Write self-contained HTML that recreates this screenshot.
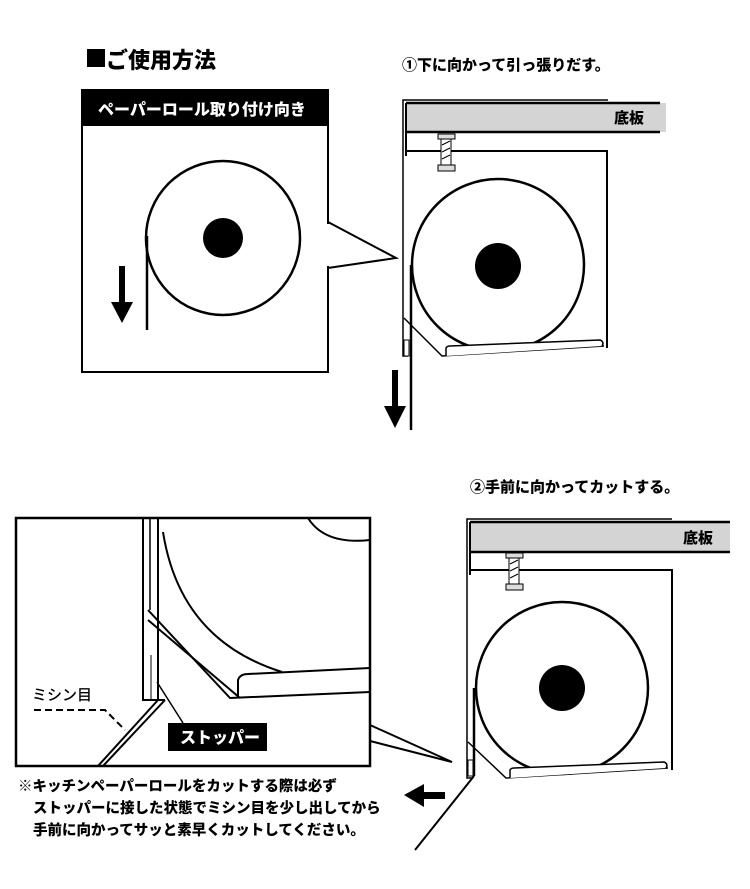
<!DOCTYPE html>
<html><head><meta charset="utf-8"><style>
html,body{margin:0;padding:0;background:#fff}
svg text{font-family:"Liberation Sans","Noto Sans CJK JP",sans-serif;font-weight:900}
</style></head><body>
<svg width="750" height="884" viewBox="0 0 750 884" xmlns="http://www.w3.org/2000/svg">
<rect x="87" y="49" width="18" height="18" fill="#000"/>
<text x="106" y="68" font-size="22">ご使用方法</text>
<text x="402" y="70" font-size="15">①下に向かって引っ張りだす。</text>
<!-- box1 -->
<rect x="82" y="90" width="246" height="282" fill="#fff" stroke="#000" stroke-width="2"/>
<rect x="82" y="90" width="246" height="36" fill="#000"/>
<text x="98" y="115" font-size="16" fill="#fff">ペーパーロール取り付け向き</text>
<circle cx="223" cy="238" r="77" fill="#fff" stroke="#000" stroke-width="2.5"/>
<circle cx="223" cy="238" r="20" fill="#000"/>
<line x1="147" y1="236" x2="147" y2="330" stroke="#000" stroke-width="2.5"/>
<rect x="119" y="266" width="6" height="40" fill="#000"/>
<polygon points="111,302 133,302 122,323" fill="#000"/>
<polygon points="328,222 396,258 328,268" fill="#fff" stroke="#000" stroke-width="2"/>
<rect x="326" y="224" width="4" height="42" fill="#fff"/>
<!-- diagram 1 -->
<g>
<polyline points="608,100 403,100 403,356 408,356" fill="none" stroke="#000" stroke-width="1.5"/>
<rect x="406" y="103" width="260" height="29" fill="#d4d4d4"/>
<line x1="406" y1="103" x2="660" y2="103" stroke="#000" stroke-width="2.5"/>
<line x1="406" y1="132" x2="660" y2="132" stroke="#000" stroke-width="2.5"/>
<line x1="406" y1="103" x2="406" y2="156" stroke="#000" stroke-width="2"/>
<text x="614" y="123" font-size="15">底板</text>
<polyline points="406,151 607,151 607,348" fill="none" stroke="#000" stroke-width="2"/>
<rect x="438" y="134" width="17" height="5" fill="#ddd" stroke="#000"/>
<rect x="441" y="139" width="10" height="26" fill="#fff" stroke="#000"/>
<path d="M442,145 L450,141 M442,152 L450,148 M442,159 L450,155" stroke="#000"/>
<rect x="438" y="165" width="17" height="6" fill="#ddd" stroke="#000"/>
<circle cx="498" cy="265" r="86" fill="#fff" stroke="#000" stroke-width="2.5"/>
<circle cx="498" cy="266" r="23" fill="#000"/>
<polyline points="404,318 442,356 604,346" fill="none" stroke="#000" stroke-width="1.5"/>
<path d="M446,356 L446,348 Q447,346 450,346 L600,340 Q603,341 603,344 L602,346" fill="#fff" stroke="#000" stroke-width="1.5"/>
<rect x="404" y="340" width="5" height="16" fill="#fff" stroke="#000"/>
<line x1="411" y1="265" x2="411" y2="430" stroke="#000" stroke-width="2.5"/>
<rect x="392" y="370" width="6" height="40" fill="#000"/>
<polygon points="384,406 406,406 395,428" fill="#000"/>
</g>
<!-- diagram 2 -->
<text x="470" y="492" font-size="15">②手前に向かってカットする。</text>
<g>
<polyline points="672,519 467,519 467,778 472,778" fill="none" stroke="#000" stroke-width="1.5"/>
<rect x="470" y="522" width="260" height="30" fill="#d4d4d4"/>
<line x1="470" y1="522" x2="730" y2="522" stroke="#000" stroke-width="2.5"/>
<line x1="470" y1="552" x2="730" y2="552" stroke="#000" stroke-width="2.5"/>
<line x1="470" y1="522" x2="470" y2="575" stroke="#000" stroke-width="2"/>
<text x="683" y="543" font-size="15">底板</text>
<polyline points="470,570 672,570 672,770" fill="none" stroke="#000" stroke-width="2"/>
<rect x="506" y="553" width="17" height="5" fill="#ddd" stroke="#000"/>
<rect x="509" y="558" width="10" height="26" fill="#fff" stroke="#000"/>
<path d="M510,564 L518,560 M510,571 L518,567 M510,578 L518,574" stroke="#000"/>
<rect x="506" y="584" width="17" height="6" fill="#ddd" stroke="#000"/>
<circle cx="562" cy="688" r="86" fill="#fff" stroke="#000" stroke-width="2.5"/>
<circle cx="562" cy="688" r="23" fill="#000"/>
<polyline points="468,742 506,778 668,768" fill="none" stroke="#000" stroke-width="1.5"/>
<path d="M510,778 L510,770 Q511,768 514,768 L664,762 Q667,763 667,766 L666,768" fill="#fff" stroke="#000" stroke-width="1.5"/>
<rect x="468" y="760" width="5" height="16" fill="#fff" stroke="#000"/>
<line x1="474" y1="688" x2="474" y2="776" stroke="#000" stroke-width="2.5"/>
<line x1="474" y1="776" x2="415" y2="850" stroke="#000" stroke-width="2"/>
<rect x="420" y="792" width="25" height="7" fill="#000"/>
<polygon points="424,784 424,807 404,795" fill="#000"/>
</g>
<!-- detail box -->
<polygon points="370,725 452,762 370,741" fill="#fff" stroke="#000" stroke-width="2"/>
<rect x="16" y="518" width="354" height="248" fill="#fff" stroke="#000" stroke-width="2.5"/>
<path d="M308,518 Q325,545 370,540" fill="none" stroke="#000" stroke-width="2"/>
<path d="M163,532 Q180,640 282,672" fill="none" stroke="#000" stroke-width="2"/>
<polyline points="143,518 143,700 158,700 158,518" fill="none" stroke="#000" stroke-width="2"/>
<line x1="150" y1="518" x2="150" y2="610" stroke="#000" stroke-width="1.5"/>
<line x1="151" y1="655" x2="151" y2="700" stroke="#000" stroke-width="1"/>
<polyline points="148,610 230,698 370,692" fill="none" stroke="#000" stroke-width="2"/>
<polyline points="148,620 240,698" fill="none" stroke="#000" stroke-width="2"/>
<path d="M238,698 L238,680 Q240,674 248,674 L370,668" fill="none" stroke="#000" stroke-width="2"/>
<line x1="158" y1="700" x2="98" y2="766" stroke="#000" stroke-width="2"/>
<line x1="165" y1="700" x2="103" y2="766" stroke="#000" stroke-width="2"/>
<line x1="158" y1="700" x2="165" y2="700" stroke="#000" stroke-width="2"/>
<line x1="157" y1="682" x2="183" y2="723" stroke="#000" stroke-width="1.5"/>
<rect x="168" y="723" width="99" height="28" fill="#000"/>
<text x="180" y="743" font-size="16" fill="#fff">ストッパー</text>
<text x="32" y="700" font-size="15" style="font-weight:500">ミシン目</text>
<path d="M34,710 L105,710 L125,730" fill="none" stroke="#000" stroke-width="2" stroke-dasharray="7,4"/>
<text x="18" y="791" font-size="14.5">※キッチンペーパーロールをカットする際は必ず</text>
<text x="33" y="813" font-size="14.5">ストッパーに接した状態でミシン目を少し出してから</text>
<text x="33" y="835" font-size="14.5">手前に向かってサッと素早くカットしてください。</text>
</svg>
</body></html>
